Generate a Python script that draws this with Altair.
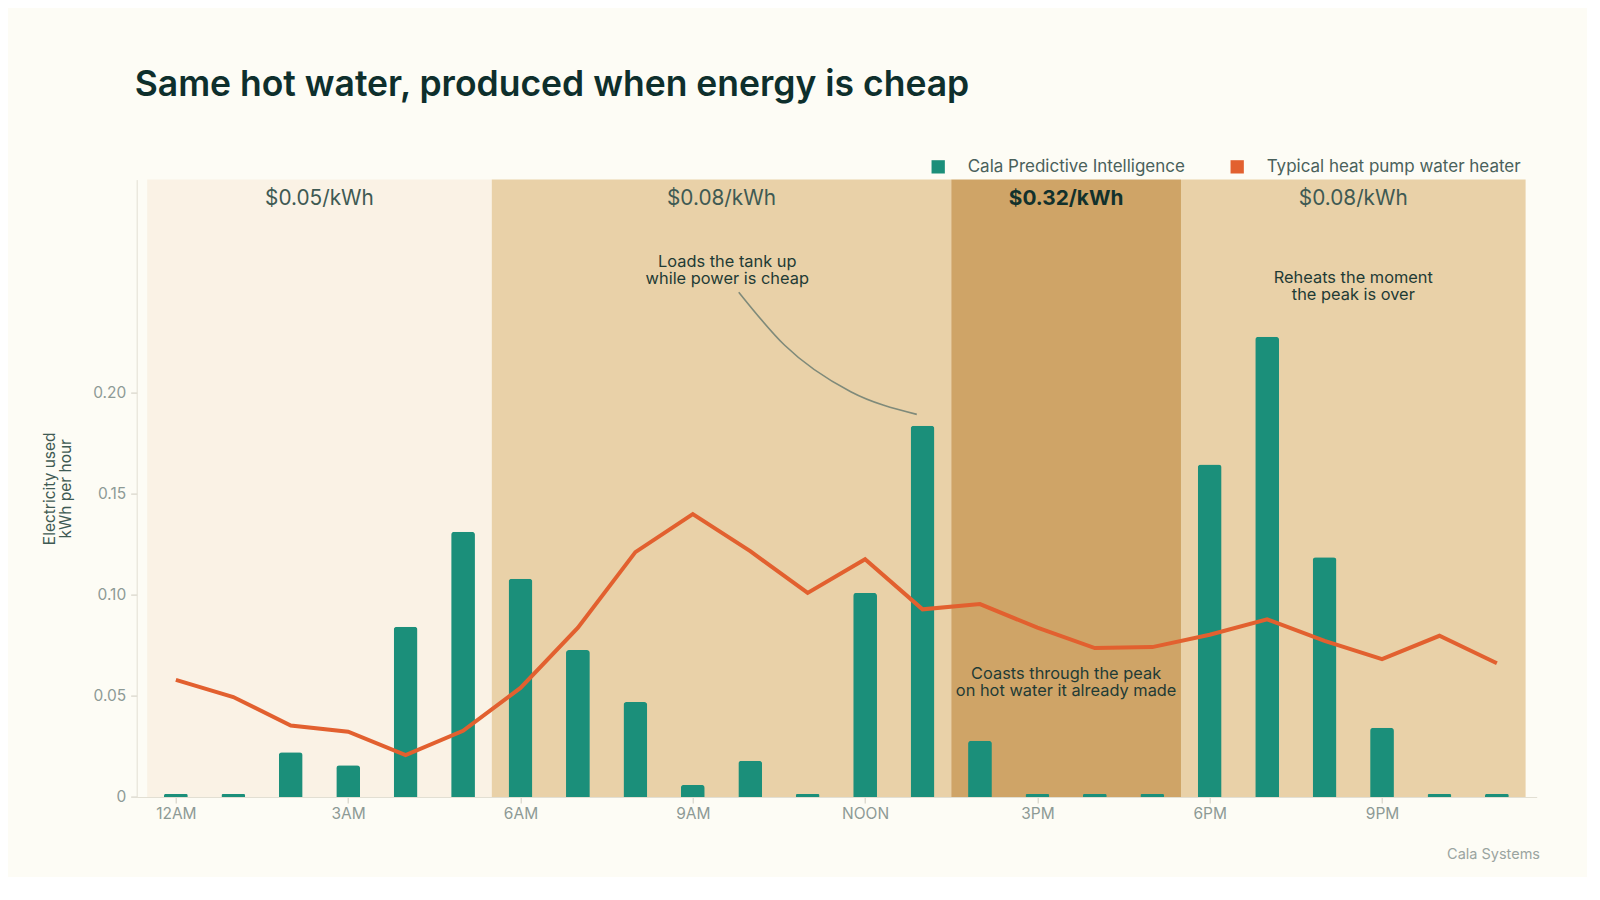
import altair as alt
import pandas as pd

# ---------------- data ----------------
hours = list(range(24))
cala = [0.0015, 0.0015, 0.0222, 0.0157, 0.0843, 0.1313, 0.1080, 0.0727,
        0.0470, 0.0060, 0.0180, 0.0015, 0.1010, 0.1838, 0.0278, 0.0015,
        0.0015, 0.0015, 0.1646, 0.2278, 0.1187, 0.0343, 0.0015, 0.0015]
typical = [0.0580, 0.0495, 0.0354, 0.0323, 0.0207, 0.0328, 0.0540, 0.0838,
           0.1212, 0.1400, 0.1217, 0.1010, 0.1177, 0.0929, 0.0955, 0.0838,
           0.0737, 0.0742, 0.0803, 0.0879, 0.0773, 0.0682, 0.0798, 0.0662]
series_names = ["Cala Predictive Intelligence", "Typical heat pump water heater"]
series_colors = ["#1b8f7a", "#e2602f"]

band_start = [-0.5, 5.5, 13.5, 17.5]
band_end = [5.5, 13.5, 17.5, 23.5]
band_mid = [2.5, 9.5, 15.5, 20.5]
band_price = ["$0.05/kWh", "$0.08/kWh", "$0.32/kWh", "$0.08/kWh"]
band_fill = ["#faf2e5", "#e9d1a8", "#cfa467", "#e9d1a8"]
band_peak = [False, False, True, False]

tick_hours = [0, 3, 6, 9, 12, 15, 18, 21]
tick_labels = ["12AM", "3AM", "6AM", "9AM", "NOON", "3PM", "6PM", "9PM"]
y_ticks = [0, 0.05, 0.10, 0.15, 0.20]

note_text = ["Loads the tank up\nwhile power is cheap",
             "Coasts through the peak\non hot water it already made",
             "Reheats the moment\nthe peak is over"]
note_x = [9.6, 15.5, 20.5]
note_y = [0.2648, 0.0611, 0.2567]   # first line of each note

connector_x = [9.80, 10.60, 11.75, 12.90]
connector_y = [0.2499, 0.2236, 0.2006, 0.1894]

# ---------------- tables ----------------
series_df = pd.DataFrame({
    "hour": hours * 2,
    "value": cala + typical,
    "series": [series_names[0]] * 24 + [series_names[1]] * 24,
})
bands_df = pd.DataFrame({"start": band_start, "end": band_end, "mid": band_mid,
                         "price": band_price, "fill": band_fill, "peak": band_peak})
notes_df = pd.DataFrame({"x": note_x, "y": note_y, "text": note_text})
conn_df = pd.DataFrame({"x": connector_x, "y": connector_y,
                        "order": list(range(len(connector_x)))})

FONT = "Inter"
W, H = 1400, 617.4
X_DOMAIN = [-0.595, 23.606]
Y_DOMAIN = [0, 0.3056]
Y_TOP = 0.296

x_scale = alt.Scale(domain=X_DOMAIN, nice=False, zero=False)
y_scale = alt.Scale(domain=Y_DOMAIN, nice=False)

label_expr = "[" + ",".join("'%s'" % t for t in tick_labels) + "][round(datum.value/3)]"

x_axis = alt.Axis(values=tick_hours, labelExpr=label_expr, title=None,
                  labelFont=FONT, labelFontSize=15.5, labelColor="#8d9a95",
                  tickColor="#cfccc0", tickSize=6, domainColor="#e2dfd3",
                  labelPadding=4, grid=False)
y_axis = alt.Axis(values=y_ticks,
                  labelExpr="datum.value == 0 ? '0' : format(datum.value, '.2f')",
                  title=["Electricity used", "kWh per hour"],
                  titleFont=FONT, titleFontSize=15.5, titleFontWeight="normal",
                  titleColor="#3f5a53", titlePadding=19, titleLineHeight=16,
                  labelFont=FONT, labelFontSize=15.5, labelColor="#8d9a95",
                  tickColor="#cfccc0", tickSize=6, domainColor="#e2dfd3",
                  labelPadding=5, grid=False)


def X(field):
    return alt.X(field, type="quantitative", scale=x_scale, axis=x_axis)


def Y(field):
    return alt.Y(field, type="quantitative", scale=y_scale, axis=y_axis)


color_enc = alt.Color("series:N",
                      scale=alt.Scale(domain=series_names, range=series_colors),
                      legend=alt.Legend(title=None, orient="none", direction="horizontal",
                                        legendX=793, legendY=-21.5, symbolType="square",
                                        symbolSize=177, symbolStrokeWidth=0,
                                        labelFont=FONT, labelFontSize=17,
                                        labelColor="#4a615b", labelOffset=21,
                                        labelLimit=500, columnPadding=43))

bands = alt.Chart(bands_df).transform_calculate(
    t=str(Y_DOMAIN[1]), b="0").mark_rect().encode(
    x=X("start"), x2="end", y=Y("t"), y2="b",
    fill=alt.Fill("fill:N", scale=None),
)

band_text = alt.Chart(bands_df).transform_filter("!datum.peak").transform_calculate(
    y=str(Y_TOP)).mark_text(font=FONT, fontSize=20.8, color="#3f5a53").encode(
    x=X("mid"), y=Y("y"), text="price:N")
band_text_peak = alt.Chart(bands_df).transform_filter("datum.peak").transform_calculate(
    y=str(Y_TOP)).mark_text(font=FONT, fontSize=20.8, fontWeight="bold",
                            color="#12312c").encode(
    x=X("mid"), y=Y("y"), text="price:N")

bars = alt.Chart(series_df).transform_filter(
    alt.datum.series == series_names[0]).mark_bar(
    width=23.8, cornerRadiusTopLeft=3, cornerRadiusTopRight=3).encode(
    x=X("hour"), y=Y("value"), color=color_enc)

line = alt.Chart(series_df).transform_filter(
    alt.datum.series == series_names[1]).mark_line(strokeWidth=4).encode(
    x=X("hour"), y=Y("value"), color=color_enc)

notes = alt.Chart(notes_df).mark_text(font=FONT, fontSize=16.4, color="#1f3b35",
                                      lineBreak="\n", lineHeight=17).encode(
    x=X("x"), y=Y("y"), text="text:N")

connector = alt.Chart(conn_df).mark_line(interpolate="monotone", color="#7f8a7a",
                                         strokeWidth=1.6).encode(
    x=X("x"), y=Y("y"), order="order:Q")

credit = alt.Chart(pd.DataFrame({"t": ["Cala Systems"]})).mark_text(
    font=FONT, fontSize=14.5, color="#9aa4a0", align="right").encode(
    x=alt.value(W + 3.3), y=alt.value(675.4), text="t:N")

chart = alt.layer(bands, band_text, band_text_peak, bars, line, connector, notes, credit).properties(
    width=W, height=H,
    title=alt.TitleParams("Same hot water, produced when energy is cheap",
                          anchor="start", frame="group", font=FONT, fontSize=35.5,
                          fontWeight=600, color="#0e2f2c", offset=55, dx=-2),
    background="#fdfcf5",
    padding={"left": 128.7, "top": 171.6, "right": 50, "bottom": 80},
    autosize=alt.AutoSizeParams(type="none"),
).configure_view(stroke=None)

chart.save("out.html", embed_options={"renderer": "svg", "actions": False})
